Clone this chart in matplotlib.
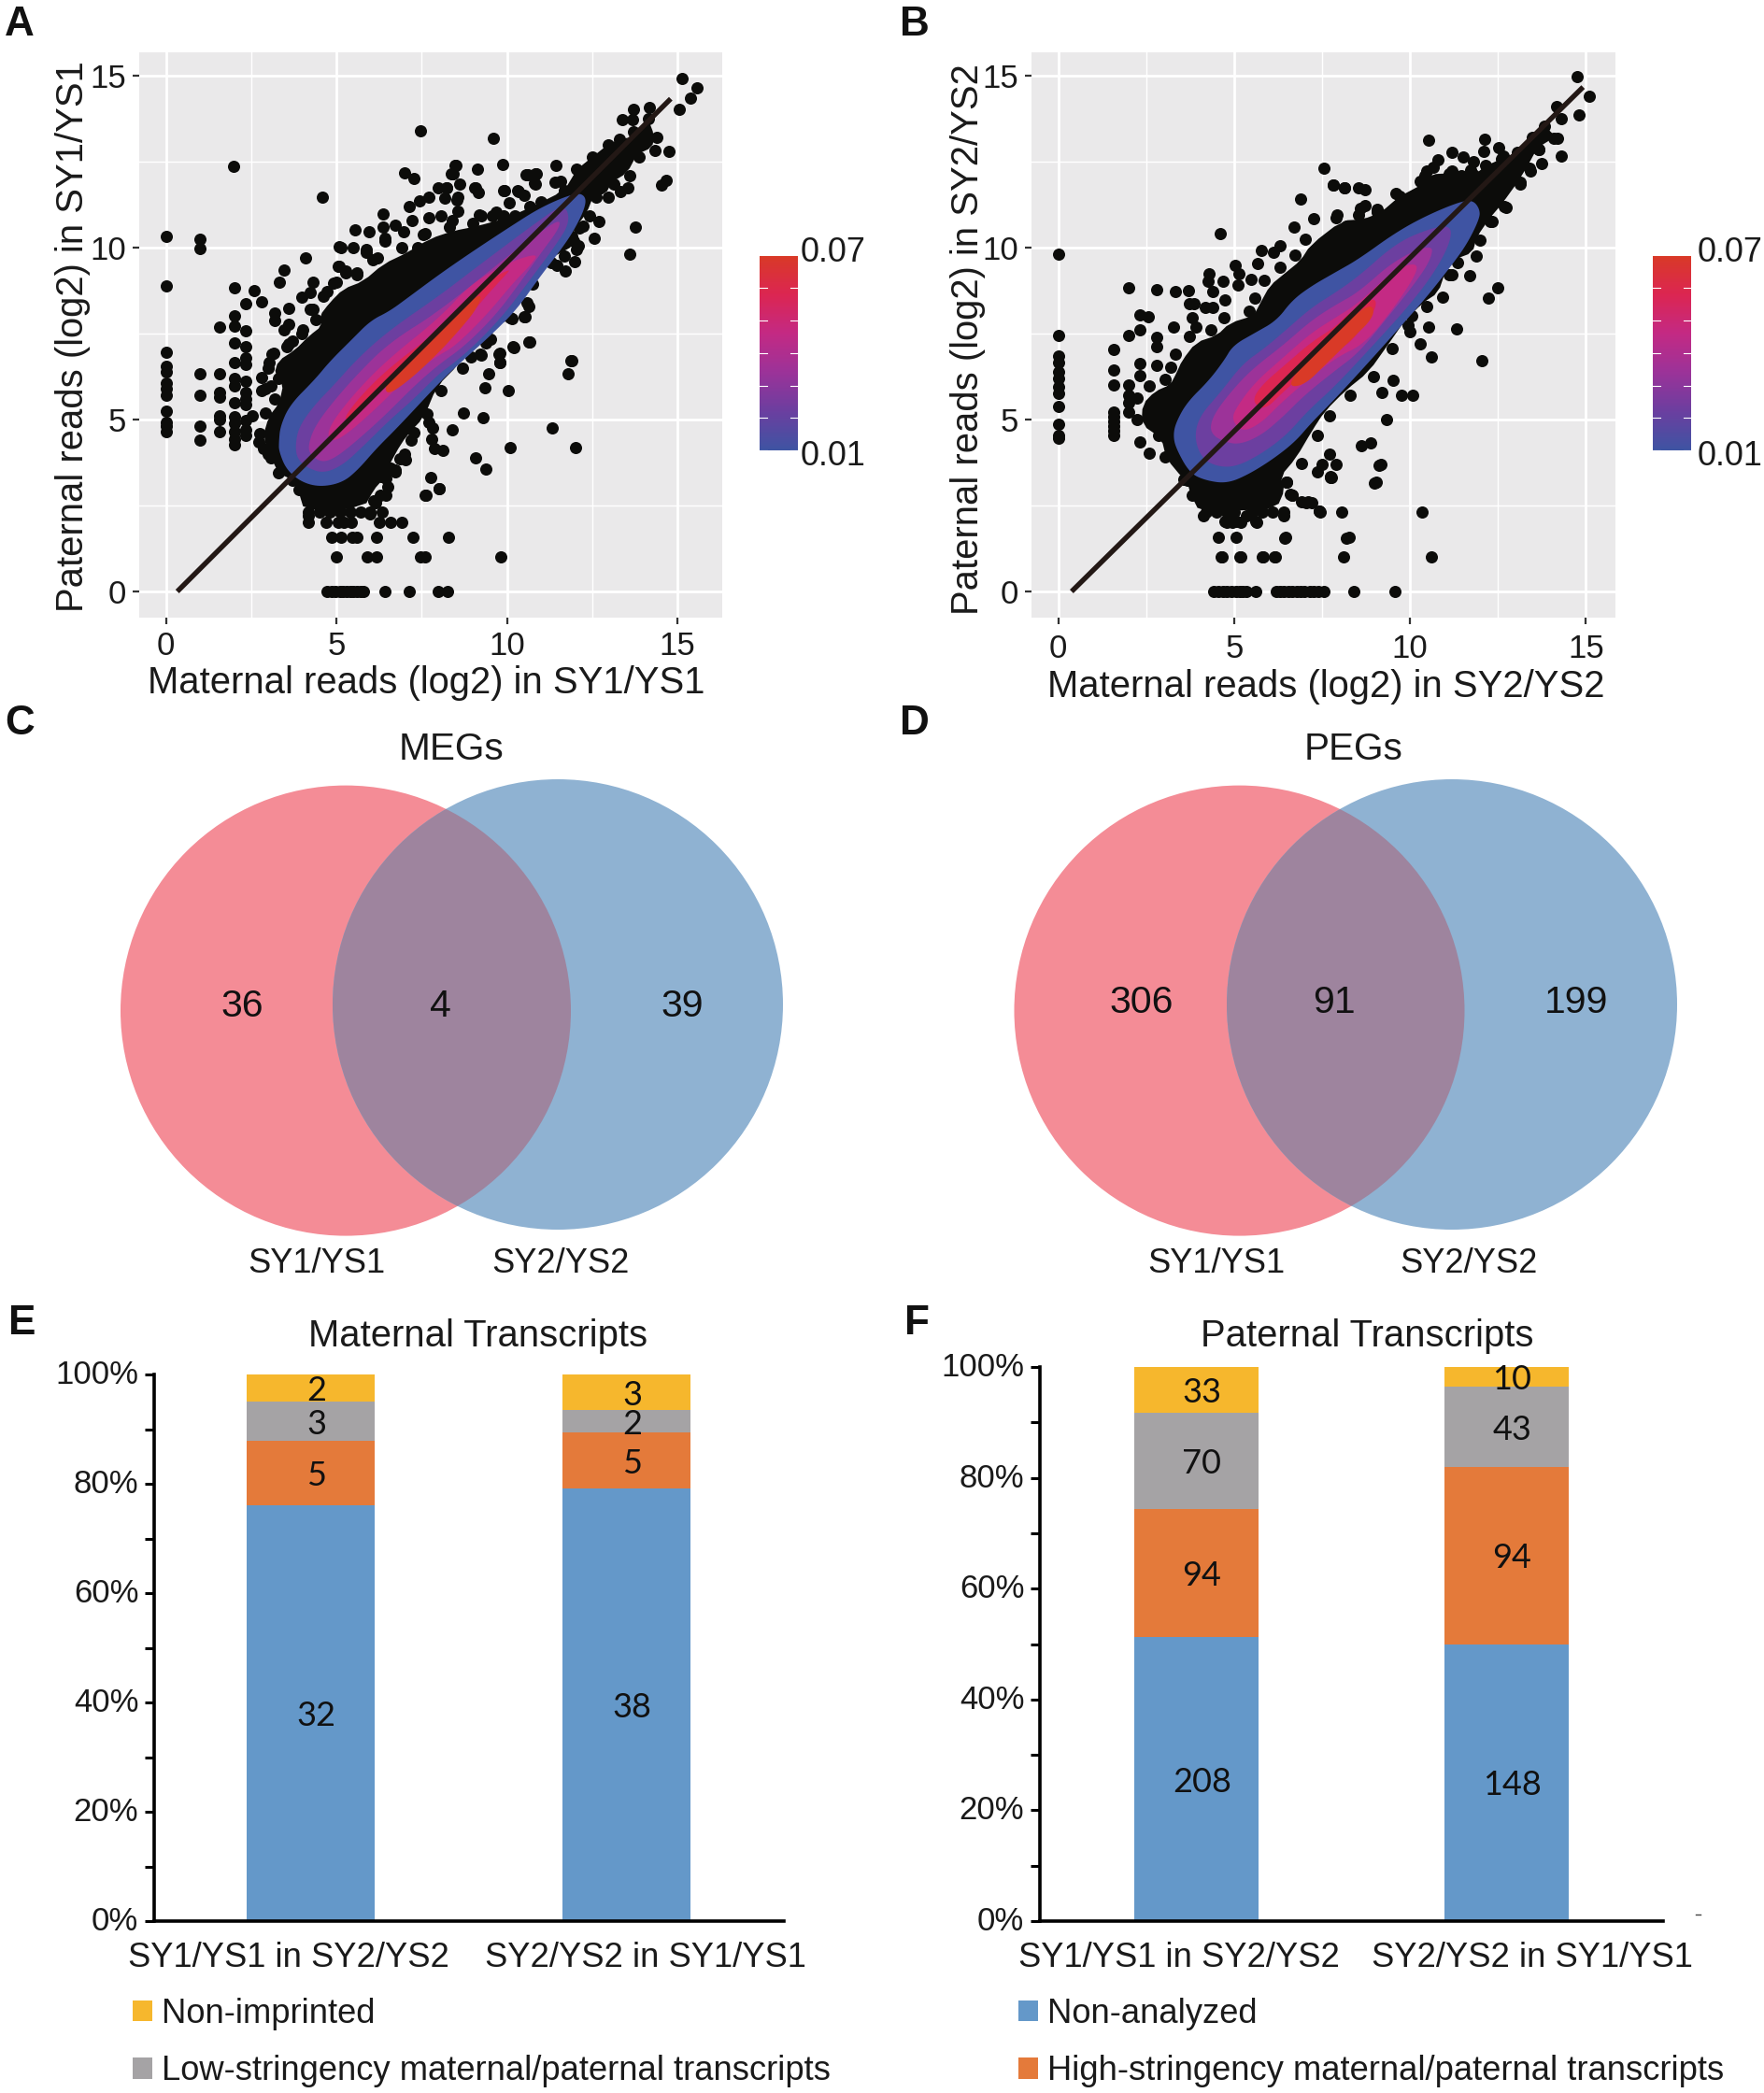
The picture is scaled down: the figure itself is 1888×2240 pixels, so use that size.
import numpy as np
import matplotlib
matplotlib.use("Agg")
import matplotlib.pyplot as plt
from matplotlib.colors import LinearSegmentedColormap
from matplotlib.lines import Line2D
from matplotlib.patches import Circle, Patch
from matplotlib.transforms import ScaledTranslation

W, H = 1888, 2240
plt.rcParams["font.family"] = ["Liberation Sans", "DejaVu Sans"]

# scatter outliers (maternal, paternal log2 reads)
a_points = [
    (0, 10.32), (1, 10.24), (1, 9.97), (0, 8.9), (0, 6.97), (0, 6.56), (0, 6.38), (0, 6.07), (0, 5.91),
    (0, 5.7), (0, 5.25), (0, 4.93), (0, 4.8), (0, 4.65), (1, 6.33), (1, 5.71), (1, 4.82), (1, 4.41),
    (1.58, 7.7), (1.58, 6.34), (1.58, 5.8), (1.58, 5.66), (1.58, 5.12), (1.58, 5.0), (1.58, 4.66),
    (2, 8.83), (2, 8.03), (2, 7.71), (2, 7.22), (2, 6.67), (2, 6.2), (2, 5.98), (2, 5.5), (2, 5.07),
    (2, 4.89), (2, 4.66), (2, 4.44), (2, 4.26), (2.59, 8.76), (2.33, 8.36), (2.81, 8.43), (2.33, 7.57),
    (2.33, 7.13), (2.33, 6.79), (2.33, 6.61), (2.33, 6.11), (2.33, 5.8), (2.33, 5.61), (2.33, 5.43),
    (2.33, 4.98), (2.33, 4.71), (2.33, 4.53), (2.81, 6.22), (2.81, 5.84), (3.18, 8.1), (3.18, 7.88),
    (3.47, 9.34), (3.32, 9.0), (4.09, 9.7), (3.59, 8.24), (4.31, 9.0), (3.99, 8.55), (4.22, 8.69),
    (4.22, 8.21), (3.59, 7.78), (3.46, 7.6), (3.99, 7.51), (5.09, 10.02), (5.5, 10.0), (5.05, 9.46),
    (4.72, 0), (4.85, 0), (4.98, 0), (5.1, 0), (5.2, 0), (5.3, 0), (5.4, 0), (5.5, 0), (5.6, 0), (5.7, 0),
    (5.8, 0), (6.43, 0), (7.14, 0), (7.99, 0), (8.26, 0), (5.0, 1), (5.89, 1), (6.16, 1), (7.46, 1),
    (7.6, 1), (9.83, 1), (4.85, 1.58), (5.13, 1.58), (5.45, 1.58), (5.59, 1.58), (6.16, 1.58),
    (7.25, 1.58), (8.29, 1.58), (4.18, 2), (4.7, 2), (5.04, 2), (5.22, 2), (5.43, 2), (6.25, 2),
    (6.58, 2), (6.91, 2), (4.18, 2.32), (4.49, 2.32), (4.8, 2.32), (5.1, 2.32), (5.4, 2.32), (5.7, 2.32),
    (5.99, 2.32), (6.35, 2.32), (7.62, 2.81), (8.01, 3.0), (7.77, 3.31),
    (9.09, 3.9), (9.39, 3.57), (6.46, 2.81), (6.14, 2.59), (6.73, 3.49), (6.59, 3.58), (7.03, 3.83),
    (7.47, 13.4), (4.58, 11.47), (7.0, 12.17), (7.27, 12.02), (8.47, 12.4), (8.37, 12.15), (1.99, 12.37),
    (6.37, 10.98), (7.13, 11.2), (7.43, 11.37), (12.0, 4.18), (10.1, 4.18), (11.32, 4.76), (11.8, 6.32),
    (11.88, 6.7), (10.65, 7.25), (10.5, 7.99), (10.1, 7.96), (10.2, 7.1), (10.03, 5.85), (9.3, 5.05),
    (8.73, 5.19), (9.35, 5.92), (9.47, 6.32), (9.78, 6.66), (9.78, 6.93), (9.22, 6.9), (8.02, 2.98),
    (7.6, 2.81), (8.39, 4.7), (8.13, 4.1), (7.8, 4.42), (15.14, 14.92), (15.58, 14.66), (15.39, 14.36),
    (15.06, 14.03), (14.18, 14.09), (13.71, 14.03), (13.37, 13.72), (13.67, 13.72), (13.71, 13.38),
    (14.75, 12.79), (14.67, 11.97), (14.53, 11.82), (13.53, 11.75), (13.31, 11.63), (12.7, 10.77),
    (12.57, 10.27), (13.75, 10.59), (13.6, 9.81), (11.98, 9.59), (11.72, 9.33), (11.47, 9.48),
    (12.09, 10.05), (11.9, 10.33), (12.23, 10.62), (9.59, 13.19), (9.87, 12.43), (11.42, 12.39),
    (10.6, 12.13), (10.85, 12.14), (10.81, 11.87), (11.4, 11.9), (11.58, 11.94), (9.92, 11.66),
    (10.35, 11.64), (10.5, 11.52), (10.07, 11.3), (9.14, 12.27), (8.49, 12.38), (8.42, 12.16),
    (8.61, 11.86), (8.24, 11.75), (9.07, 11.73), (9.16, 11.61), (8.18, 11.45), (8.52, 11.39),
    (9.2, 10.96), (9.68, 11.02), (9.89, 10.82), (10.64, 8.29), (10.53, 8.0), (10.14, 7.94), (10.67, 7.25),
    (10.18, 7.13), (9.75, 6.9), (9.25, 6.88), (11.89, 6.72), (9.8, 6.65), (9.52, 7.33), (9.39, 7.22),
    (8.93, 6.81),
    (5.54, 10.53), (5.95, 10.46), (5.12, 10.0), (5.08, 9.46), (5.87, 9.86), (5.28, 9.33), (6.37, 10.59),
    (6.71, 10.66), (6.41, 10.26), (6.96, 10.46), (7.21, 10.79), (7.55, 10.39), (7.38, 9.99), (7.97, 11.73),
    (8.22, 11.75), (7.72, 11.46), (8.56, 11.46), (8.56, 11.06), (9.06, 11.73), (9.23, 10.93), (9.9, 11.66),
    (10.32, 11.66), (10.57, 12.13), (10.82, 12.15), (10.82, 11.86), (8.39, 10.79), (8.05, 10.93), (7.72, 10.86),
    (9.56, 10.93), (9.9, 10.93), (10.23, 10.93), (10.99, 11.33),
    (2.85, 4.17), (3.08, 3.9), (2.71, 4.35), (3.03, 6.65), (3.17, 6.93), (3.53, 7.11), (3.72, 7.29), (4.72, 8.73),
    (4.9, 8.96), (5.27, 9.28), (5.59, 9.28), (5.86, 9.95), (6.05, 9.64), (6.41, 10.18), (2.53, 5.12), (3.08, 5.98),
    (2.9, 5.89), (6.46, 3.29), (6.36, 3.51), (6.09, 3.69), (7.64, 5.16), (7.28, 4.62), (7.83, 4.76), (7.87, 4.17),
    (7.0, 3.99), (6.73, 3.54), (6.32, 3.35), (6.09, 2.63),
]
b_points = [
    (0, 9.8), (0, 7.45), (0, 6.84), (0, 6.66), (0, 6.39), (0, 6.21), (0, 5.94), (0, 5.76), (0, 5.37),
    (0, 4.87), (0, 4.54), (0, 4.45), (1.59, 7.03), (1.59, 6.44), (1.59, 6.0), (1.59, 5.22), (1.59, 5.08),
    (1.59, 4.95), (1.59, 4.81), (1.59, 4.67), (1.59, 4.54), (2, 8.82), (2, 7.46), (2.8, 8.77), (3.32, 8.73),
    (3.69, 8.76), (2.32, 8.04), (2.57, 8.0), (2.32, 7.61), (2.32, 6.64), (2.32, 6.27), (2.01, 6.0),
    (2.01, 5.71), (2.01, 5.49), (2.01, 5.22), (2.32, 4.34), (2.58, 4.01), (2.8, 7.39), (2.8, 7.12),
    (2.8, 6.57), (4.29, 9.24), (4.27, 9.01), (4.69, 9.01), (4.39, 8.72), (4.75, 8.47), (3.73, 8.38),
    (3.87, 8.38), (4.18, 8.25), (4.4, 8.25), (3.82, 7.97), (3.29, 7.7), (3.91, 7.7), (5.04, 9.48),
    (5.13, 9.24), (5.12, 8.91), (5.49, 9.09), (5.68, 9.53), (5.77, 9.92), (6.12, 9.87), (6.3, 10.05),
    (4.6, 10.42), (7.73, 3.35), (7.41, 2.35), (7.1, 2.61), (6.92, 2.61), (6.61, 2.84), (5.62, 2.03),
    (5.06, 2.03), (4.88, 2.03), (4.75, 2.03), (5.86, 3.23), (6.48, 3.18),
    (4.2, 2.32), (4.5, 2.32), (4.8, 2.32), (5.0, 2.32), (5.5, 2.32), (5.8, 2.32), (6.1, 2.32), (6.4, 2.32),
    (4.42, 0), (4.55, 0), (4.68, 0), (4.8, 0), (4.93, 0), (5.05, 0), (5.15, 0), (5.25, 0), (5.35, 0),
    (5.62, 0), (6.19, 0), (6.3, 0), (6.42, 0), (6.55, 0), (6.65, 0), (6.78, 0), (6.9, 0), (7.0, 0), (7.15, 0),
    (7.25, 0), (7.4, 0), (7.55, 0), (8.39, 0), (9.58, 0), (4.66, 1), (5.19, 1), (5.84, 1), (6.17, 1),
    (8.1, 1), (10.6, 1), (4.54, 1.58), (5.06, 1.58), (6.46, 1.58), (8.26, 1.58), (4.78, 2), (4.96, 2),
    (5.18, 2), (5.65, 2), (7.45, 2.32), (8.05, 2.32), (10.35, 2.32), (7.04, 2.58), (7.21, 2.58),
    (6.64, 2.81), (7.77, 3.31), (9.05, 3.17), (9.18, 3.69), (7.9, 3.69), (7.5, 3.7), (7.37, 3.47), (7.7, 4.0),
    (12.5, 8.84), (12.22, 8.52), (11.7, 9.18), (11.32, 7.64), (10.52, 7.7), (10.28, 7.2), (9.99, 7.56),
    (10.61, 6.83), (10.04, 8.02), (11.18, 9.21), (12.04, 6.7), (10.08, 5.72), (9.76, 5.72), (9.33, 5.0),
    (9.51, 6.13), (9.2, 5.78), (8.61, 4.25), (8.87, 4.32), (9.12, 3.68), (9.0, 3.15), (7.73, 3.31),
    (8.2, 1.56), (7.43, 2.33), (6.44, 1.56), (5.79, 1), (6.14, 1), (5.17, 1), (4.63, 1),
    (14.74, 14.97), (15.09, 14.41), (14.81, 13.86), (14.17, 14.11), (14.29, 13.75), (14.29, 12.67),
    (13.75, 12.45), (14.1, 13.18), (13.66, 12.86), (13.41, 12.22), (13.13, 11.9), (12.73, 11.17),
    (12.29, 10.76), (10.52, 13.13), (12.13, 13.16), (12.09, 12.81), (12.51, 12.9), (12.64, 12.67),
    (11.18, 12.76), (11.52, 12.63), (11.79, 12.49), (11.73, 12.26), (10.79, 12.56), (10.67, 12.35),
    (10.42, 12.1), (11.11, 12.14), (11.45, 12.08), (9.7, 11.49), (9.75, 11.21), (7.83, 11.81), (8.15, 11.73),
    (8.53, 11.73), (8.73, 11.69), (8.58, 11.15), (8.73, 11.21), (9.06, 11.03), (9.46, 10.89), (7.9, 10.87),
    (8.18, 10.62), (7.54, 12.3), (7.81, 11.83), (8.14, 11.75), (6.9, 11.42), (7.25, 10.85), (6.7, 10.6),
]

# outline of the solid black mass of overlapping points
a_mass = [
    (3.3, 3.44), (3.0, 4.0), (2.75, 4.6), (2.9, 5.2), (3.2, 5.6), (3.3, 6.2), (3.0, 6.5), (3.1, 6.9), (3.6, 7.2),
    (4.0, 7.6), (4.4, 7.9), (4.3, 8.2), (4.6, 8.6), (5.0, 9.0), (5.6, 9.2), (6.2, 9.7), (6.9, 10.0), (7.6, 10.4),
    (8.3, 10.6), (9.0, 10.7), (9.9, 10.9), (10.67, 11.2), (11.68, 11.66),
    (12.04, 12.29), (12.5, 12.65), (12.96, 13.0), (13.3, 13.15), (13.87, 13.2), (14.15, 13.74), (14.38, 13.2),
    (14.33, 12.84), (13.87, 12.65), (13.6, 12.1), (13.14, 11.84), (12.96, 11.48), (12.6, 11.48), (12.41, 10.93),
    (12.13, 10.57), (11.95, 10.2), (12.04, 9.94), (11.68, 9.76), (11.3, 9.57), (10.76, 8.94), (10.58, 8.4),
    (9.84, 8.03), (9.4, 7.6), (8.7, 6.5), (8.05, 5.85), (7.7, 4.92), (7.2, 4.4),
    (6.87, 3.86), (6.5, 3.05), (6.27, 2.79), (5.99, 2.25), (4.17, 2.2), (3.9, 2.97), (3.7, 3.24),
]
b_mass = [
    (3.56, 3.27), (3.03, 3.91), (2.85, 4.54), (2.23, 4.99), (2.23, 5.62), (2.58, 5.99), (3.03, 6.17), (3.2, 6.53),
    (3.34, 6.89), (3.73, 7.43), (4.35, 7.61), (4.71, 7.97), (5.42, 8.16), (5.59, 8.52), (5.86, 9.06), (6.3, 9.42),
    (6.74, 9.78), (7.01, 10.24), (7.92, 10.94), (8.53, 10.94), (9.06, 11.12), (9.59, 11.58), (10.3, 11.94),
    (10.48, 12.22), (11.18, 12.22), (11.8, 12.13), (12.16, 12.4), (12.6, 12.58), (13.04, 12.76), (13.48, 13.22),
    (13.83, 13.54), (14.19, 13.18), (13.66, 12.86), (13.39, 12.31), (13.13, 11.85), (12.69, 11.2), (12.33, 10.76),
    (11.98, 10.21), (11.89, 9.75), (11.36, 9.57), (11.1, 9.21), (10.92, 8.57), (10.48, 8.29), (9.95, 7.75),
    (9.5, 7.06), (8.96, 6.25), (8.3, 5.72), (7.7, 5.1), (7.36, 4.54), (6.92, 3.72), (6.48, 3.18), (6.64, 2.79),
    (6.42, 2.2), (5.35, 2.2), (4.12, 2.2), (3.81, 2.79), (3.67, 3.24),
]

# density bands, outermost first
a_density = [
    [(3.31, 4.35), (3.35, 4.8), (3.63, 5.43), (4.36, 6.16), (4.81, 6.7), (5.45, 7.33), (6.0, 7.88), (6.55, 8.15),
     (7.1, 8.55), (8.01, 9.22), (8.93, 9.85), (10.03, 10.57), (11.03, 11.2), (12.04, 11.61), (12.32, 11.48),
     (12.27, 11.11), (11.95, 10.48), (11.58, 9.94), (10.94, 9.12), (10.3, 8.22), (9.57, 7.49), (8.56, 6.59),
     (8.01, 6.07), (6.82, 4.8), (6.18, 4.17), (5.63, 3.54), (5.18, 3.17), (4.54, 3.04), (3.99, 3.17), (3.53, 3.54),
     (3.31, 4.08)],
    [(3.79, 4.26), (3.9, 4.8), (4.36, 5.43), (4.9, 5.98), (5.63, 6.79), (6.55, 7.6), (8.01, 8.6), (8.93, 9.3),
     (10.03, 10.12), (10.76, 10.66), (11.68, 11.3), (11.86, 10.75), (11.4, 10.03), (10.58, 8.94), (9.89, 8.03),
     (9.02, 7.13), (8.37, 6.59), (8.01, 6.34), (7.28, 5.61), (6.55, 4.98), (5.82, 4.26), (5.18, 3.67), (4.63, 3.44),
     (4.17, 3.58), (3.85, 3.85)],
    [(4.17, 4.26), (4.36, 4.8), (4.9, 5.52), (5.63, 6.34), (6.55, 7.24), (8.01, 8.15), (10.03, 9.76), (10.76, 10.3),
     (11.54, 10.84), (11.54, 10.57), (11.0, 9.85), (10.35, 8.94), (9.66, 8.03), (8.75, 7.13), (8.01, 6.61),
     (7.28, 5.98), (6.37, 5.07), (5.45, 4.26), (4.9, 3.85), (4.54, 3.76), (4.22, 3.99)],
    [(4.72, 4.53), (4.9, 4.98), (5.63, 5.88), (6.55, 6.79), (8.01, 7.95), (8.93, 8.94), (10.03, 9.57), (10.94, 9.85),
     (10.7, 9.5), (10.2, 9.0), (9.39, 8.03), (8.47, 7.13), (8.01, 6.88), (7.1, 6.25), (6.18, 5.34), (5.36, 4.62),
     (4.9, 4.35)],
    [(5.18, 4.98), (5.63, 5.61), (6.55, 6.52), (8.01, 7.6), (8.93, 8.53), (9.57, 9.12), (10.12, 9.39), (9.95, 9.2),
     (9.3, 8.5), (8.4, 7.4), (8.01, 7.15), (6.82, 6.34), (6.09, 5.7), (5.45, 5.07)],
    [(6.4, 6.0), (7.0, 6.6), (8.0, 7.55), (8.7, 8.3), (9.3, 8.7), (9.1, 8.2), (8.6, 7.6), (8.0, 6.95), (7.2, 6.2),
     (6.5, 5.7)],
]
b_density = [
    [(3.27, 4.54), (3.34, 4.9), (3.65, 5.49), (4.27, 6.12), (4.71, 6.71), (4.97, 7.16), (5.59, 7.52), (6.21, 7.88),
     (6.65, 8.47), (7.19, 8.88), (7.89, 9.29), (8.53, 9.66), (9.59, 10.44), (10.48, 10.94), (11.45, 11.35),
     (11.8, 11.37), (11.98, 11.12), (11.98, 10.85), (11.63, 10.12), (11.18, 9.48), (10.48, 8.57), (9.77, 7.75),
     (9.06, 6.93), (7.89, 5.62), (7.19, 4.9), (6.74, 4.36), (6.12, 3.86), (5.42, 3.41), (4.8, 3.14), (4.18, 3.23),
     (3.73, 3.45), (3.34, 4.18)],
    [(3.87, 4.45), (4.0, 5.08), (4.62, 5.8), (5.24, 6.62), (5.86, 7.07), (6.48, 7.61), (7.19, 8.25), (7.89, 8.7),
     (8.53, 9.16), (9.59, 10.12), (10.48, 10.53), (11.18, 10.67), (11.14, 10.12), (10.65, 9.21), (9.95, 8.29),
     (9.15, 7.38), (7.89, 5.99), (7.1, 5.26), (6.48, 4.54), (5.77, 4.0), (5.06, 3.63), (4.53, 3.63), (4.09, 3.86)],
    [(4.31, 4.81), (4.49, 5.26), (5.06, 5.99), (5.59, 6.53), (6.39, 7.16), (7.19, 7.88), (7.89, 8.34), (8.53, 8.7),
     (9.59, 9.66), (10.65, 10.12), (10.6, 9.66), (10.12, 8.93), (9.33, 7.93), (8.53, 6.93), (7.89, 6.44), (7.0, 5.71),
     (6.39, 5.08), (5.77, 4.54), (5.15, 4.27), (4.71, 4.36), (4.4, 4.54)],
    [(4.93, 4.99), (5.06, 5.35), (5.59, 6.08), (6.39, 6.8), (7.19, 7.52), (7.89, 7.97), (8.53, 8.38), (9.59, 9.39),
     (10.21, 9.57), (10.17, 9.21), (9.51, 8.2), (8.71, 7.2), (7.89, 6.8), (7.0, 6.08), (6.3, 5.45), (5.77, 4.9),
     (5.24, 4.63)],
    [(5.5, 5.53), (5.77, 5.99), (6.48, 6.62), (7.19, 7.25), (7.89, 7.7), (8.27, 8.11), (8.98, 8.57), (9.06, 8.29),
     (8.71, 7.75), (8.18, 7.11), (7.89, 7.16), (7.1, 6.44), (6.39, 5.8), (5.86, 5.26)],
    [(6.5, 5.95), (7.0, 6.7), (7.6, 7.2), (8.2, 7.85), (8.9, 8.4), (9.0, 8.0), (8.3, 7.3), (7.6, 6.6), (7.0, 6.0)],
]
density_colors = ["#3F54A3", "#6C3FA0", "#9C3399", "#C42A84", "#DC2652", "#D93A27"]

a_line_x, a_line_y = [0.33, 14.8], [0.0, 14.33]
b_line_x, b_line_y = [0.38, 14.92], [0.0, 14.67]

bar_cats = ["SY1/YS1 in SY2/YS2", "SY2/YS2 in SY1/YS1"]
e_blue = [76.1, 79.1]
e_orange = [11.8, 10.3]
e_gray = [7.1, 4.1]
e_yellow = [5.0, 6.5]
e_blue_n = [32, 38]
e_orange_n = [5, 5]
e_gray_n = [3, 2]
e_yellow_n = [2, 3]
f_blue = [51.2, 50.0]
f_orange = [23.2, 32.0]
f_gray = [17.3, 14.4]
f_yellow = [8.3, 3.6]
f_blue_n = [208, 148]
f_orange_n = [94, 94]
f_gray_n = [70, 43]
f_yellow_n = [33, 10]
bar_colors = ["#6498C9", "#E47A3A", "#A5A3A5", "#F6B72D"]

c_counts = ["36", "4", "39"]
d_counts = ["306", "91", "199"]
pink, steel, overlap = "#F48C96", "#8FB2D2", "#9E849E"

fig = plt.figure(figsize=(W / 100, H / 100), dpi=100, facecolor="white")


def px_axes(left, top, right, bottom):
    return fig.add_axes([left / W, 1 - bottom / H, (right - left) / W, (bottom - top) / H])


def ftext(x, y, s, px=36, **kw):
    kw.setdefault("ha", "center")
    kw.setdefault("va", "center")
    kw.setdefault("color", "#1a1a1a")
    return fig.text(x / W, 1 - y / H, s, fontsize=px * 0.72, **kw)


def smooth(pts, rounds=3):
    # corner cutting so the hand read outlines are not angular
    p = np.array(pts, dtype=float)
    for _ in range(rounds):
        q = np.roll(p, -1, axis=0)
        p = np.column_stack([0.75 * p + 0.25 * q, 0.25 * p + 0.75 * q]).reshape(-1, 2)
    return p


def mass_core(pts, k=0.9):
    # fill sits a bit inside the outline so the edge dots stay visible
    p = np.array(pts, dtype=float)
    mid = p.mean(axis=1, keepdims=True)
    return mid + k * (p - mid)


def density_panel(box, xlim, ylim, points, mass, bands, line_x, line_y, cbar_box, xpad):
    ax = px_axes(*box)
    ax.set_facecolor("#EAE9EA")
    ax.set_xlim(*xlim)
    ax.set_ylim(*ylim)
    ax.set_xticks([0, 5, 10, 15])
    ax.set_yticks([0, 5, 10, 15])
    ax.set_xticks([2.5, 7.5, 12.5], minor=True)
    ax.set_yticks([2.5, 7.5, 12.5], minor=True)
    ax.grid(True, which="major", color="white", lw=2.0)
    ax.grid(True, which="minor", color="white", lw=1.0)
    ax.set_axisbelow(True)
    for s in ax.spines.values():
        s.set_visible(False)
    ax.tick_params(which="major", length=5, width=1.6, color="#333333", labelsize=25, pad=5,
                   labelcolor="#1a1a1a")
    ax.tick_params(axis="x", which="major", pad=xpad)
    ax.tick_params(which="minor", length=0)

    m = np.array(mass)
    ax.fill(*smooth(mass_core(mass), 1).T, color="#0C0C0A", lw=0, zorder=2)
    ax.scatter(m[:, 0], m[:, 1], s=88, color="#0C0C0A", lw=0, zorder=2)
    p = np.array(points)
    ax.scatter(p[:, 0], p[:, 1], s=88, color="#0C0C0A", lw=0, zorder=2)
    for band, col in zip(bands, density_colors):
        ax.fill(*smooth(band).T, color=col, lw=0, zorder=3)
    ax.plot(line_x, line_y, color="#231815", lw=3.9, solid_capstyle="butt", zorder=4)

    cax = px_axes(*cbar_box)
    cmap = LinearSegmentedColormap.from_list("dens", density_colors)
    levels = np.linspace(0.01, 0.07, 200)
    cax.imshow(levels[::-1, None], aspect="auto", cmap=cmap, extent=[0, 1, 0.01, 0.07])
    cax.set_xticks([])
    cax.set_yticks([])
    for s in cax.spines.values():
        s.set_visible(False)
    for v in [0.01, 0.02, 0.03, 0.04, 0.05, 0.06]:
        cax.plot([0, 0.2], [v, v], color="white", lw=0.8)
        cax.plot([0.8, 1], [v, v], color="white", lw=0.8)
    cax.set_xlim(0, 1)
    cax.set_ylim(0.01, 0.07)


def venn(c1, c2, r):
    ax = fig.add_axes([0, 0, 1, 1], facecolor="none")
    ax.set_xlim(0, W)
    ax.set_ylim(H, 0)
    ax.axis("off")
    ax.add_patch(Circle(c1, r, color=pink, lw=0))
    right = Circle(c2, r, color=steel, lw=0)
    ax.add_patch(right)
    both = Circle(c1, r, color=overlap, lw=0)
    ax.add_patch(both)
    both.set_clip_path(right)


def stacked(box, unit_left, unit, width, xt, series, counts, swatches, labels, legend_xy):
    ax = px_axes(*box)
    x = np.arange(len(bar_cats))
    bottom = np.zeros(2)
    up3 = ScaledTranslation(0, 3 / 100, fig.dpi_scale_trans)
    down3 = ScaledTranslation(0, -3 / 100, fig.dpi_scale_trans)
    for vals, ns, col in zip(series, counts, bar_colors):
        ax.bar(x, vals, width=width, bottom=bottom, color=col, lw=0)
        for i in x:
            ax.text(i + 0.018, bottom[i] + vals[i] / 2, str(ns[i]), ha="center", va="center",
                    fontsize=26, family="Lato", color="#111111", transform=ax.transData + down3)
        bottom = bottom + np.array(vals)
    ax.set_xlim(unit_left, unit_left + (box[2] - box[0]) / unit)
    ax.set_ylim(0, 100)
    for s in ["top", "right"]:
        ax.spines[s].set_visible(False)
    for s in ["left", "bottom"]:
        ax.spines[s].set_linewidth(2.6)
    ax.set_yticks(range(0, 101, 20))
    ax.set_yticklabels([f"{v}%" for v in range(0, 101, 20)])
    ax.set_yticks(range(10, 100, 20), minor=True)
    ax.tick_params(axis="y", which="both", length=7, width=2.2)
    ax.tick_params(axis="y", which="major", labelsize=25, pad=5, labelcolor="#1a1a1a")
    for lab in ax.get_yticklabels():
        lab.set_transform(lab.get_transform() + up3)
    ax.set_xticks(xt)
    ax.set_xticklabels(bar_cats, fontsize=26.2, color="#1a1a1a")
    ax.tick_params(axis="x", length=0, pad=16)
    handles = [Patch(color=c, lw=0) for c in swatches]
    fig.legend(handles, labels, loc="upper left", frameon=False,
               bbox_to_anchor=(legend_xy[0] / W, 1 - legend_xy[1] / H), borderaxespad=0, borderpad=0,
               fontsize=26.2, labelcolor="#1a1a1a", handlelength=0.58, handleheight=0.58,
               handletextpad=0.27, labelspacing=0.72)


density_panel((149, 56, 773, 661), (-0.786, 16.31), (-0.76, 15.68), a_points, a_mass, a_density,
              a_line_x, a_line_y, (813, 273.6, 854, 482), 5)
density_panel((1104, 56, 1729, 661), (-0.76, 15.84), (-0.76, 15.68), b_points, b_mass, b_density,
              b_line_x, b_line_y, (1769, 273.6, 1810, 482), 7)

venn((370, 1081.6), (597, 1075), 241)
venn((1326.5, 1081.6), (1554, 1075), 241)

stacked((165, 1471, 839, 2056), -0.496, 338, 0.405, [-0.07, 1.06],
        [e_blue, e_orange, e_gray, e_yellow], [e_blue_n, e_orange_n, e_gray_n, e_yellow_n],
        [bar_colors[3], bar_colors[2]], ["Non-imprinted", "Low-stringency maternal/paternal transcripts"],
        (142, 2138))
stacked((1113, 1463, 1779.5, 2056), -0.5045, 332, 0.402, [-0.057, 1.083],
        [f_blue, f_orange, f_gray, f_yellow], [f_blue_n, f_orange_n, f_gray_n, f_yellow_n],
        [bar_colors[0], bar_colors[1]], ["Non-analyzed", "High-stringency maternal/paternal transcripts"],
        (1090, 2138))

# panel letters
for (lx, ly, letter) in [(21, 27, "A"), (979, 27, "B"), (21, 774, "C"), (979, 774, "D"), (24, 1416, "E"),
                         (981, 1416, "F")]:
    ftext(lx, ly, letter, px=44, fontweight="bold", color="#111111")

ftext(78, 360, "Paternal reads (log2) in SY1/YS1", px=40, rotation=90)
ftext(456, 731, "Maternal reads (log2) in SY1/YS1", px=40)
ftext(1036, 363, "Paternal reads (log2) in SY2/YS2", px=40, rotation=90)
ftext(1419.5, 735, "Maternal reads (log2) in SY2/YS2", px=40)
for cx in [857, 1817]:
    ftext(cx, 271, "0.07", ha="left")
    ftext(cx, 488, "0.01", ha="left")

ftext(483, 802, "MEGs", px=40.5)
ftext(1449, 802, "PEGs", px=40.5)
for cx, s in zip([259, 471.5, 730], c_counts):
    ftext(cx, 1077.5, s, px=41, color="#111111")
for cx, s in zip([1221.5, 1428, 1687], d_counts):
    ftext(cx, 1072.6, s, px=41, color="#111111")
ftext(339, 1352, "SY1/YS1", px=36.2)
ftext(600, 1352, "SY2/YS2", px=36.2)
ftext(1302, 1352, "SY1/YS1", px=36.2)
ftext(1572, 1352, "SY2/YS2", px=36.2)

ftext(512, 1430, "Maternal Transcripts", px=40)
ftext(1463.7, 1430, "Paternal Transcripts", px=40)
fig.add_artist(Line2D([1815 / W, 1820 / W], [1 - 2049 / H] * 2, color="#444444", lw=1))

fig.savefig("out.png", dpi=100)
plt.close(fig)
